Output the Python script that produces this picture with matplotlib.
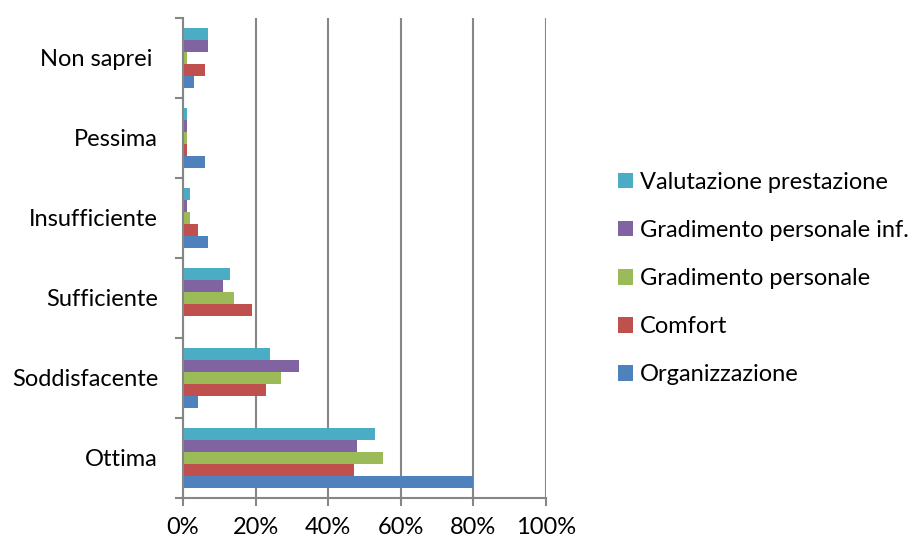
import matplotlib
matplotlib.use("Agg")
import matplotlib.pyplot as plt
from matplotlib.ticker import PercentFormatter
import numpy as np

plt.rcParams['font.family'] = ['Lato', 'DejaVu Sans']

categories = ['Ottima', 'Soddisfacente', 'Sufficiente', 'Insufficiente', 'Pessima', 'Non saprei ']
series = ['Organizzazione', 'Comfort', 'Gradimento personale',
          'Gradimento personale inf.', 'Valutazione prestazione']
colors = ['#4F81BD', '#C0504D', '#9BBB59', '#8064A2', '#4BACC6']

organizzazione = [0.80, 0.04, 0.00, 0.07, 0.06, 0.03]
comfort = [0.47, 0.23, 0.19, 0.04, 0.01, 0.06]
grad_personale = [0.55, 0.27, 0.14, 0.02, 0.01, 0.01]
grad_personale_inf = [0.48, 0.32, 0.11, 0.01, 0.01, 0.07]
valutazione = [0.53, 0.24, 0.13, 0.02, 0.01, 0.07]
values = [organizzazione, comfort, grad_personale, grad_personale_inf, valutazione]

fs = 17

fig = plt.figure(figsize=(9.22, 5.43), dpi=100)
ax = fig.add_axes([183/922, 45/543, 363/922, 480/543])

y = np.arange(len(categories))
h = 0.152
for i, (vals, name, c) in enumerate(zip(values, series, colors)):
    ax.barh(y + (i - 2) * h, vals, height=h, color=c, label=name, zorder=3)

ax.set_xlim(0, 1)
ax.set_ylim(-0.5, len(categories) - 0.5)
ax.set_xticks(np.arange(0, 1.01, 0.2))
ax.xaxis.set_major_formatter(PercentFormatter(1.0, decimals=0))
ax.set_yticks(y)
ax.set_yticklabels(categories)
ax.set_yticks(np.arange(-0.5, len(categories)), minor=True)
ax.tick_params(axis='y', which='major', length=0, pad=18, labelsize=fs)
ax.tick_params(axis='y', which='minor', length=6, width=1.5, color='#868686')
ax.tick_params(axis='x', length=6, width=1.5, color='#868686', pad=8, labelsize=fs)

ax.grid(axis='x', color='#868686', linewidth=1.5, zorder=0)
for s in ['top', 'right']:
    ax.spines[s].set_visible(False)
for s in ['left', 'bottom']:
    ax.spines[s].set_color('#868686')
    ax.spines[s].set_linewidth(1.5)
    ax.spines[s].set_zorder(4)

handles, labels = ax.get_legend_handles_labels()
fig.legend(handles[::-1], labels[::-1], loc='center left',
           bbox_to_anchor=(618/922, 0.487), frameon=False, fontsize=fs,
           borderpad=0, borderaxespad=0,
           handlelength=0.64, handleheight=0.64, handletextpad=0.3,
           labelspacing=1.15)

fig.savefig('out.png', dpi=100)
